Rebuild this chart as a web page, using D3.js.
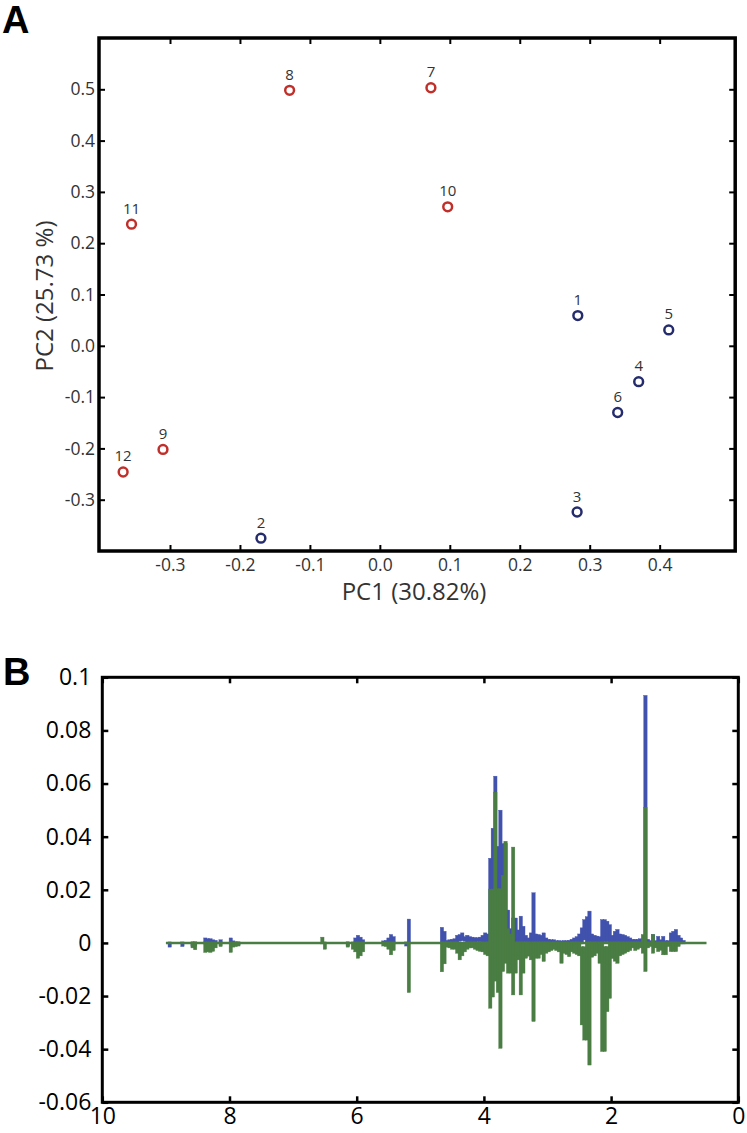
<!DOCTYPE html>
<html><head><meta charset="utf-8">
<script src="https://cdn.jsdelivr.net/npm/d3@7"></script>
<style>
body{margin:0;background:#fff}
svg{display:block}
</style>
</head><body>
<svg id="chart" width="747" height="1133"></svg>
<script>
// ---------------- Panel A: PCA scores ----------------
const sampleIds = ["1","2","3","4","5","6","7","8","9","10","11","12"];
const pc1Scores = [0.283, -0.170, 0.282, 0.370, 0.413, 0.340, 0.073, -0.129, -0.310, 0.097, -0.355, -0.367];
const pc2Scores = [0.059, -0.375, -0.324, -0.070, 0.031, -0.130, 0.503, 0.498, -0.202, 0.271, 0.237, -0.246];
const sampleGroup = ["b","b","b","b","b","b","r","r","r","r","r","r"];
const pcaXTicks = [-0.3, -0.2, -0.1, 0.0, 0.1, 0.2, 0.3, 0.4];
const pcaYTicks = [-0.3, -0.2, -0.1, 0.0, 0.1, 0.2, 0.3, 0.4, 0.5];
const pcaXTitle = "PC1 (30.82%)";
const pcaYTitle = "PC2 (25.73 %)";

// ---------------- Panel B: loadings per bucket (ppm) ----------------
const ppmBins = [8.94,8.74,8.58,8.54,8.38,8.34,8.30,8.26,8.22,8.14,7.98,7.94,7.90,7.86,
 6.54,6.50,6.14,6.06,6.02,5.98,5.94,5.90,5.58,5.54,5.50,5.46,5.42,5.22,5.18,
 4.66,4.62,4.58,4.54,4.50,4.46,4.42,4.38,4.34,4.30,4.26,4.22,4.18,4.14,4.10,4.06,4.02,3.98,3.94,
 3.90,3.86,3.82,3.78,3.74,3.70,3.66,3.62,3.58,3.54,3.50,3.46,3.42,3.38,3.34,3.30,3.26,3.22,3.18,3.14,3.10,3.06,3.02,
 2.98,2.94,2.90,2.86,2.82,2.78,2.74,2.70,2.66,2.62,2.58,2.54,2.50,2.46,2.42,2.38,2.34,2.30,2.26,2.22,2.18,2.14,2.10,2.06,2.02,
 1.98,1.94,1.90,1.86,1.82,1.78,1.74,1.70,1.66,1.62,1.58,1.54,1.50,1.46,1.42,1.38,1.34,1.30,1.26,1.22,1.18,1.14,1.10,1.06,1.02,0.98,0.94,0.90,0.86];
const blueLow = [-0.0012,-0.001,-0.001,-0.0008,0,0,0,0,0,0,0,0,-0.0006,-0.0004,
 0,0,-0.0008,0,0,0,0,0,0,0,0,0,0,-0.0008,0,
 0,0,0,0,0,0,0,0.001,0.0012,0.001,0,0,0,0,0.0008,0.0008,0,0,0,
 0,0,0,0,0,0,0,0,0,0,0,0,0,0,0,0,0,0,0,0,0,0,0,
 0,0,0,0,0,0,0,0,0,0,0,0,0,0,0.0015,0,0,0,0,0,0,0,0.0008,0.0008,0,
 0,0,0,0,0,0,0,0,0,0,0,0,0,0,0,0,0,0,0,0,0,0,0,0,0,0,0,0,0];
const blueHigh = [0,0,0,0,0.0015,0.0012,0.0012,0.0008,0.0006,0.0008,0.0015,0.0004,0,0,
 0,0,0,0,0.0015,0.0025,0.0018,0.0008,0.0004,0.0006,0.0015,0.0028,0.002,0,0.0086,
 0.0055,0.004,0.0006,0.0008,0.001,0.0012,0.0025,0.0028,0.0034,0.002,0.0025,0.002,0.0018,0.0016,0.0016,0.0018,0.0025,0.0034,0.003,
 0.0315,0.0428,0.0624,0.036,0.0496,0.037,0.037,0.012,0.005,0.009,0.009,0.0045,0.0097,0.0059,0.0025,0.0015,0.0034,0.0185,0.003,0.0028,0.0025,0.0034,0.0015,
 0.001,0.0008,0.0008,0.0005,0.0005,0.0004,0.0005,0.0005,0.0006,0.001,0.0015,0.002,0.003,0.0053,0.0084,0.0095,0.0116,0.003,0.0025,0.0022,0.002,0.0084,0.0084,0.0078,0.0065,
 0.0025,0.004,0.0047,0.003,0.0028,0.0025,0.002,0.0015,0.001,0.001,0.001,0.0012,0.0008,0.0928,0.001,0.0005,0.0028,0.0005,0.0021,0.0008,0.0021,0.0005,0.0005,0.0034,0.004,0.0047,0.0025,0.0015,0.0006];
const greenLow = [0,0,-0.0015,-0.0022,-0.0032,-0.003,-0.0032,-0.0028,-0.0015,-0.001,-0.0032,-0.0012,-0.001,-0.0008,
 0,-0.002,-0.0012,-0.002,-0.003,-0.0054,-0.0045,-0.003,-0.0008,-0.001,-0.002,-0.0041,-0.0025,0,-0.0183,
 -0.0105,-0.0075,-0.0012,-0.0015,-0.002,-0.002,-0.0035,-0.006,-0.0045,-0.003,-0.002,-0.0015,-0.0015,-0.002,-0.0025,-0.0028,-0.003,-0.004,-0.0045,
 -0.0242,-0.02,-0.014,-0.0183,-0.0393,-0.0104,-0.0073,-0.011,-0.011,-0.0192,-0.011,-0.006,-0.0192,-0.011,-0.0054,-0.0046,-0.006,-0.0292,-0.0054,-0.0054,-0.004,-0.0066,-0.0035,
 -0.003,-0.0025,-0.002,-0.0025,-0.003,-0.0073,-0.0035,-0.004,-0.0048,-0.003,-0.0035,-0.004,-0.0045,-0.0305,-0.0362,-0.0362,-0.0456,-0.005,-0.0045,-0.0035,-0.0073,-0.0405,-0.0405,-0.0255,-0.0205,
 -0.0055,-0.0065,-0.0073,-0.0045,-0.004,-0.0035,-0.003,-0.0025,-0.0015,-0.0025,-0.002,-0.0015,-0.0035,-0.0104,-0.0015,-0.001,-0.0035,-0.0015,-0.0029,-0.0024,-0.0041,-0.0041,-0.001,-0.0029,-0.0029,-0.0029,-0.001,0,0];
const greenHigh = [0,0,0,0,0,0,0,0,0,0,0,0,0,0,
 0.0018,0,0,0,0,0,0,0,0,0,0,0,0,0,0,
 0,0,0,0,0,0,0,-0.0005,-0.0005,-0.0005,0,0,0,0,-0.0005,0,0,0,0,
 0.0199,0.0199,0.0564,0.02,0.02,0.025,0.0379,0.005,0.003,0.0357,0,0,0,0,0,0,0,0,0,0,0,0,0,
 0,0,0,0,0,0,0,0,0,0,0,0,0,-0.0018,-0.0018,0,0,0,0,0,0,0,-0.0017,-0.0017,0,
 0,0,0,0,0,0,0,0,0,0,0,0,0.0028,0.0507,0,0,0.0028,0,0,0,0,0,0,0,0,0,0,0,0];
const bucketWidth = 0.04;
const ppmExtent = [9.0, 0.5];
const loadXTicks = [10, 8, 6, 4, 2, 0];
const loadYTicks = [0.1, 0.08, 0.06, 0.04, 0.02, 0, -0.02, -0.04, -0.06];

const FONT = "'Open Sans', 'DejaVu Sans', sans-serif";
const svg = d3.select("#chart");

// ======== Panel A ========
const xA = d3.scaleLinear().domain([-0.4015, 0.508]).range([99, 735.2]);
const yA = d3.scaleLinear().domain([-0.4, 0.6]).range([551, 38]);
const fmtA = v => (Math.abs(v) < 1e-9 ? "0.0" : v.toFixed(1));
const gA = svg.append("g");

function styleAxis(g, size, color, tickW) {
  g.select(".domain").remove();
  g.selectAll(".tick line").attr("stroke", "#000").attr("stroke-width", tickW);
  g.selectAll(".tick text").attr("font-family", FONT).attr("font-size", size).attr("fill", color);
}
gA.append("g").attr("transform", `translate(${xA.range()[0]},0)`)
  .call(d3.axisLeft(yA).tickValues(pcaYTicks).tickSize(-6).tickPadding(4).tickFormat(fmtA))
  .call(g => styleAxis(g, 17.5, "#333", 2));
gA.append("g").attr("transform", `translate(${xA.range()[1]},0)`)
  .call(d3.axisRight(yA).tickValues(pcaYTicks).tickSize(-6).tickFormat(""))
  .call(g => styleAxis(g, 17.5, "#333", 2));
gA.append("g").attr("transform", `translate(0,${yA.range()[0]})`)
  .call(d3.axisBottom(xA).tickValues(pcaXTicks).tickSize(-6).tickPadding(8).tickFormat(fmtA))
  .call(g => styleAxis(g, 17.5, "#333", 2));
gA.append("g").attr("transform", `translate(0,${yA.range()[1]})`)
  .call(d3.axisTop(xA).tickValues(pcaXTicks).tickSize(-6).tickFormat(""))
  .call(g => styleAxis(g, 17.5, "#333", 2));
gA.append("rect")
  .attr("x", xA.range()[0]).attr("y", yA.range()[1])
  .attr("width", xA.range()[1] - xA.range()[0]).attr("height", yA.range()[0] - yA.range()[1])
  .attr("fill", "none").attr("stroke", "#000").attr("stroke-width", 3.5);

const groupColor = { r: "#c0302b", b: "#252c6c" };
const pts = sampleIds.map((id, i) => ({ id, x: pc1Scores[i], y: pc2Scores[i], g: sampleGroup[i] }));
gA.selectAll("circle.pt").data(pts).join("circle")
  .attr("class", "pt")
  .attr("cx", d => xA(d.x)).attr("cy", d => yA(d.y)).attr("r", 4.4)
  .attr("fill", "#fff").attr("stroke", d => groupColor[d.g]).attr("stroke-width", 2.5);
gA.selectAll("text.lbl").data(pts).join("text")
  .attr("class", "lbl")
  .attr("x", d => xA(d.x)).attr("y", d => yA(d.y) - 10.5)
  .attr("text-anchor", "middle").attr("font-family", FONT).attr("font-size", 15)
  .attr("fill", "#333").text(d => d.id);

gA.append("text").attr("x", 414).attr("y", 600).attr("text-anchor", "middle")
  .attr("font-family", FONT).attr("font-size", 24).attr("fill", "#333").text(pcaXTitle);
gA.append("text").attr("transform", "translate(53,296) rotate(-90)").attr("text-anchor", "middle")
  .attr("font-family", FONT).attr("font-size", 24).attr("fill", "#333").text(pcaYTitle);
svg.append("text").attr("x", 2).attr("y", 33).attr("font-family", "'Liberation Sans', Arial, sans-serif")
  .attr("font-weight", "bold").attr("font-size", 38).attr("fill", "#000").text("A");

// ======== Panel B ========
const xB = d3.scaleLinear().domain([10, 0]).range([102.3, 738.3]);
const yB = d3.scaleLinear().domain([-0.06, 0.1]).range([1102.3, 677.3]);
const fmtB = v => (Math.abs(v) < 1e-9 ? "0" : String(+v.toFixed(2)));
const gB = svg.append("g");

gB.append("g").attr("transform", `translate(${xB.range()[0]},0)`)
  .call(d3.axisLeft(yB).tickValues(loadYTicks).tickSize(-6).tickPadding(11).tickFormat(fmtB))
  .call(g => styleAxis(g, 23, "#000", 2.5));
gB.append("g").attr("transform", `translate(${xB.range()[1]},0)`)
  .call(d3.axisRight(yB).tickValues(loadYTicks).tickSize(-6).tickFormat(""))
  .call(g => styleAxis(g, 23, "#000", 2.5));
gB.append("g").attr("transform", `translate(0,${yB.range()[0]})`)
  .call(d3.axisBottom(xB).tickValues(loadXTicks).tickSize(-6).tickPadding(5).tickFormat(d => String(d)))
  .call(g => styleAxis(g, 23, "#000", 2.5));
gB.append("g").attr("transform", `translate(0,${yB.range()[1]})`)
  .call(d3.axisTop(xB).tickValues(loadXTicks).tickSize(-6).tickFormat(""))
  .call(g => styleAxis(g, 23, "#000", 2.5));

function bucketRects(lows, highs) {
  return ppmBins.map((p, i) => ({ p, lo: lows[i], hi: highs[i] })).filter(d => d.hi > d.lo);
}
const plot = gB.append("g");
function drawBuckets(data, color) {
  plot.append("g").selectAll("rect").data(data).join("rect")
    .attr("x", d => xB(d.p + bucketWidth / 2) - 0.4)
    .attr("width", d => xB(d.p - bucketWidth / 2) - xB(d.p + bucketWidth / 2) + 0.8)
    .attr("y", d => yB(d.hi) - 1)
    .attr("height", d => yB(d.lo) - yB(d.hi) + 2)
    .attr("fill", color).attr("stroke", color).attr("stroke-width", 0.4);
}
const blueCol = "#4152ad", greenCol = "#4a7d43";
drawBuckets(bucketRects(blueLow, blueHigh), blueCol);
plot.append("line")
  .attr("x1", xB(ppmExtent[0])).attr("x2", xB(ppmExtent[1]))
  .attr("y1", yB(0)).attr("y2", yB(0))
  .attr("stroke", greenCol).attr("stroke-width", 2.5);
drawBuckets(bucketRects(greenLow, greenHigh), greenCol);

gB.append("rect")
  .attr("x", xB.range()[0]).attr("y", yB.range()[1])
  .attr("width", xB.range()[1] - xB.range()[0]).attr("height", yB.range()[0] - yB.range()[1])
  .attr("fill", "none").attr("stroke", "#000").attr("stroke-width", 3);
svg.append("text").attr("x", 3).attr("y", 685).attr("font-family", "'Liberation Sans', Arial, sans-serif")
  .attr("font-weight", "bold").attr("font-size", 38).attr("fill", "#000").text("B");
</script>
</body></html>
